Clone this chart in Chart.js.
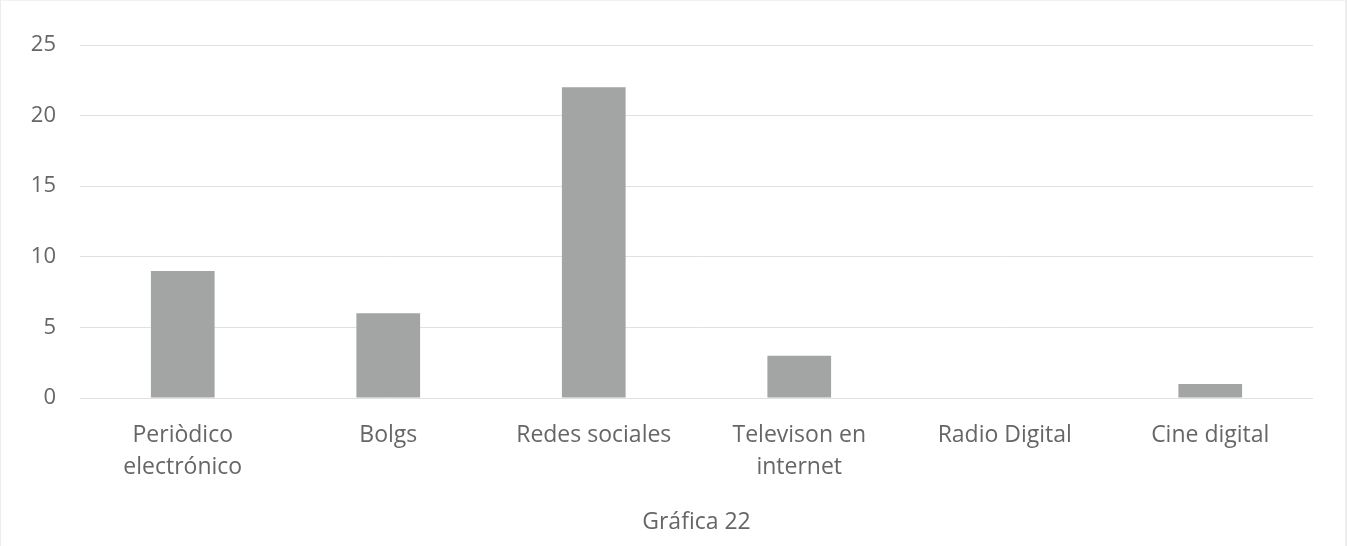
<!DOCTYPE html>
<html>
<head>
<meta charset="utf-8">
<script src="https://cdn.jsdelivr.net/npm/chart.js@4/dist/chart.umd.min.js"></script>
<style>
    html, body { margin: 0; padding: 0; background: #ffffff; }
    #wrap { position: relative; width: 1347px; height: 546px; box-sizing: border-box; border-left: 1px solid #ececec; border-right: 2px solid #eeeeee; border-top: 1px solid #f2f2f2; }
</style>
</head>
<body>
<div id="wrap"><canvas id="chart"></canvas></div>
<script>
// categories as shown under the bars (multi-line where the original wraps)
const categories = [
    ['Periòdico', 'electrónico'],
    'Bolgs',
    'Redes sociales',
    ['Televison en', 'internet'],
    'Radio Digital',
    'Cine digital'
];
const values = [9, 6, 22, 3, 0, 1];
const yTicks = [0, 5, 10, 15, 20, 25];
const axisTitle = 'Gráfica 22';

const textColor = '#666666';
const fontFamily = '"Open Sans", "Liberation Sans", sans-serif';

new Chart(document.getElementById('chart'), {
    type: 'bar',
    data: {
        labels: categories,
        datasets: [{
            data: values,
            backgroundColor: '#a2a5a4',
            borderWidth: 0,
            categoryPercentage: 1,
            barPercentage: 0.31
        }]
    },
    options: {
        responsive: true,
        maintainAspectRatio: false,
        animation: false,
        layout: { padding: { left: 0, right: 32, top: 44, bottom: 0 } },
        plugins: {
            legend: { display: false },
            tooltip: { enabled: false }
        },
        scales: {
            x: {
                grid: { display: false },
                border: { display: false },
                ticks: {
                    color: textColor,
                    font: { family: fontFamily, size: 23, lineHeight: 1.4 },
                    padding: 13,
                    maxRotation: 0,
                    autoSkip: false
                },
                title: {
                    display: true,
                    text: axisTitle,
                    color: textColor,
                    font: { family: fontFamily, size: 23 },
                    padding: { top: 8, bottom: 10 }
                },
                afterFit: function (axis) { axis.height = 148; }
            },
            y: {
                min: 0,
                max: yTicks[yTicks.length - 1],
                afterBuildTicks: function (axis) { axis.ticks = yTicks.map(function (v) { return { value: v }; }); },
                grid: { color: '#e0e0e0', drawTicks: false, lineWidth: 1 },
                border: { display: false },
                ticks: {
                    color: textColor,
                    font: { family: fontFamily, size: 22 },
                    padding: 24
                },
                afterFit: function (axis) { axis.width = 79; }
            }
        }
    }
});
</script>
</body>
</html>
